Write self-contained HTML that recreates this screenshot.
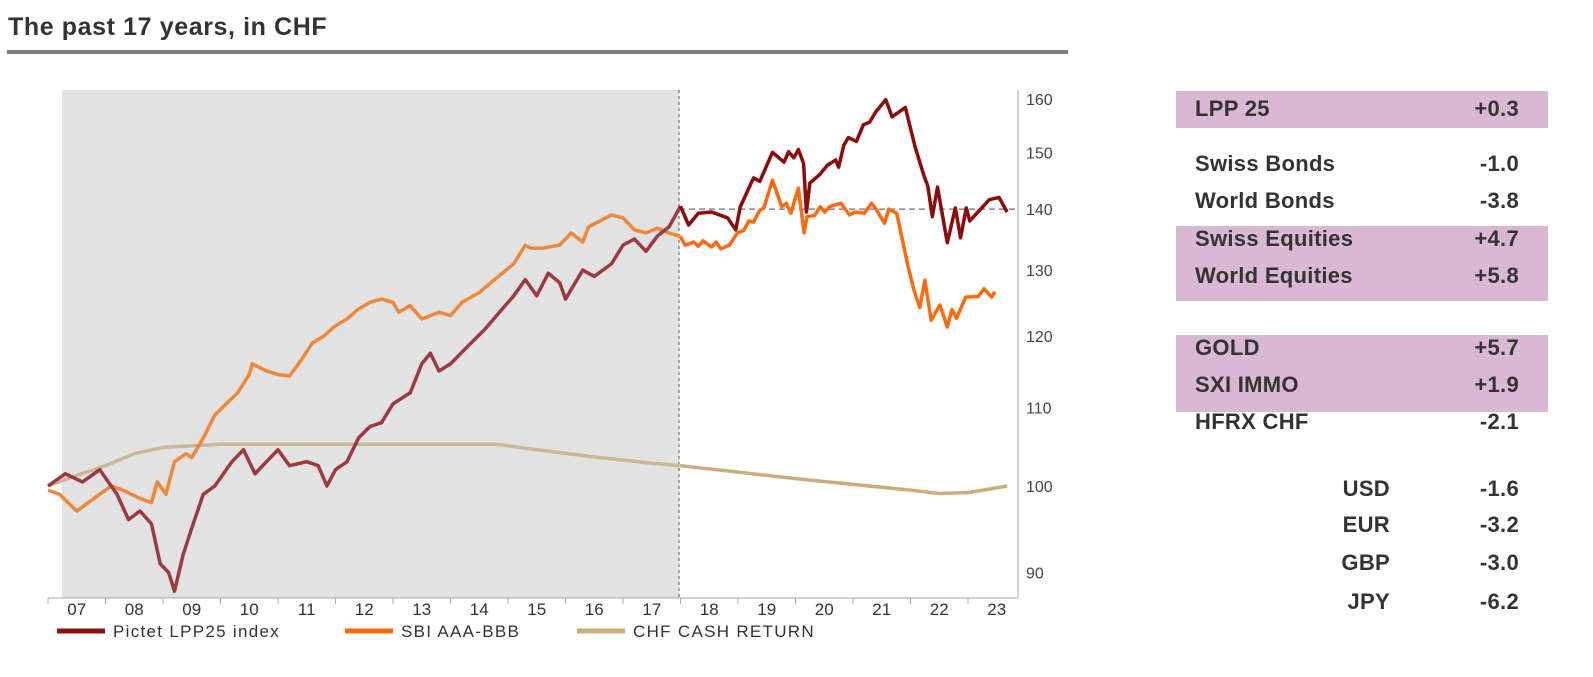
<!DOCTYPE html>
<html><head><meta charset="utf-8"><style>
body{margin:0;width:1593px;height:677px;background:#fff;font-family:"Liberation Sans",sans-serif;overflow:hidden;position:relative}
.t{position:absolute;color:#333;font-size:22px;font-weight:bold;white-space:nowrap;letter-spacing:0.3px}
.band{position:absolute;left:1176px;width:372px;background:#d8b8d3}
.r{text-align:right}
</style></head><body>
<div style="position:absolute;left:8px;top:13px;font-size:25px;font-weight:bold;color:#333;letter-spacing:0.6px">The past 17 years, in CHF</div>
<div style="position:absolute;left:7px;top:50px;width:1061px;height:4px;background:#808080"></div>

<svg id="chart" width="1100" height="677" style="position:absolute;left:0;top:0">
<rect x="62" y="90" width="617" height="508" fill="#e2e2e2"/>
<g id="g"></g>
</svg>

<div class="band" style="top:91px;height:37px"></div>
<div class="band" style="top:226px;height:75px"></div>
<div class="band" style="top:335px;height:77px"></div>
<div id="tbl"></div>

<script>
const NS="http://www.w3.org/2000/svg";
const lppT=[2007,2007.3,2007.6,2007.9,2008.2,2008.4,2008.6,2008.8,2008.95,2009.1,2009.2,2009.35,2009.5,2009.7,2009.9,2010.2,2010.4,2010.6,2010.8,2011.0,2011.2,2011.5,2011.7,2011.85,2012.0,2012.2,2012.4,2012.6,2012.8,2013.0,2013.3,2013.5,2013.65,2013.8,2014.0,2014.3,2014.6,2014.9,2015.1,2015.3,2015.5,2015.7,2015.9,2016.0,2016.3,2016.5,2016.8,2017.0,2017.2,2017.4,2017.6,2017.8,2018.0,2018.14,2018.31,2018.54,2018.82,2018.96,2019.04,2019.27,2019.38,2019.6,2019.8,2019.88,2019.97,2020.05,2020.14,2020.19,2020.25,2020.42,2020.56,2020.7,2020.75,2020.84,2020.92,2021.06,2021.18,2021.29,2021.4,2021.57,2021.68,2021.91,2022.08,2022.24,2022.3,2022.38,2022.47,2022.64,2022.78,2022.87,2022.97,2023.03,2023.2,2023.37,2023.54,2023.68];
const lppV=[100,101.5,100.5,102,99,96,97,95.5,91,90,88,92,95,99,100,103,104.5,101.5,103,104.5,102.5,103,102.5,100,102,103,106,107.5,108,110.5,112,116,117.5,115,116,118.5,121,124,126,128.5,126,129.5,128,125.5,130,129,131,134,135,133,135.5,137,140.5,137.3,139.3,139.5,138.5,136.5,140.4,145.4,144.8,150,148.2,150.1,149,150.5,148,139.5,144.5,146,147.7,148.6,147.3,151.3,152.7,152,155.1,155.6,157.6,159.9,156.6,158.4,151,145.6,144,138.7,143.8,134.4,140.2,135.2,140.2,138,139.8,141.6,142,139.5];
const sbiT=[2007,2007.2,2007.5,2007.8,2008.1,2008.3,2008.6,2008.8,2008.9,2009.05,2009.2,2009.4,2009.5,2009.7,2009.9,2010.1,2010.3,2010.5,2010.55,2010.8,2011.0,2011.2,2011.4,2011.6,2011.8,2012.0,2012.2,2012.4,2012.6,2012.8,2013.0,2013.1,2013.3,2013.5,2013.8,2014.0,2014.2,2014.5,2014.7,2014.9,2015.1,2015.3,2015.4,2015.6,2015.9,2016.1,2016.3,2016.4,2016.6,2016.8,2017.0,2017.2,2017.4,2017.6,2017.8,2018.0,2018.08,2018.23,2018.31,2018.39,2018.54,2018.62,2018.7,2018.85,2018.99,2019.1,2019.19,2019.27,2019.38,2019.45,2019.6,2019.76,2019.84,2019.92,2020.05,2020.15,2020.2,2020.33,2020.43,2020.51,2020.59,2020.79,2020.94,2021.04,2021.2,2021.32,2021.4,2021.55,2021.62,2021.76,2021.96,2022.06,2022.16,2022.25,2022.36,2022.51,2022.64,2022.72,2022.8,2022.96,2023.18,2023.28,2023.41,2023.47,2023.68];
const sbiV=[99.5,99,97,98.5,100,99.5,98.5,98,100.5,99,103,104,103.5,106,109,110.5,112,114.5,116,115,114.5,114.3,116.5,119,120,121.5,122.5,124,125,125.5,125,123.5,124.5,122.5,123.5,123,125,126.5,128,129.5,131,134,133.5,133.5,134,136,134.5,137,138,139,138.5,136.5,136,136.8,136,135.4,134,134.5,133.8,134.7,133.7,134.5,133.4,134,136,136.4,138,137.8,139.8,140.2,145,140.4,141,139.3,143.6,136,138.7,138.9,140.4,139.5,140.4,141,139,139.5,139.3,141,140,137.6,140,139.3,130.5,126.9,124.2,128.4,122.3,124.6,121.3,123.9,122.6,125.8,125.9,127.1,125.8,126.6];
const cashT=[2007,2007.5,2008,2008.5,2009,2009.5,2010,2012,2014.8,2015.5,2016.5,2017.5,2018,2019,2020,2021,2022,2022.5,2023,2023.68];
const cashV=[100,101.3,102.5,104,104.8,105,105.2,105.2,105.2,104.5,103.6,102.8,102.5,101.7,100.9,100.2,99.5,99.1,99.2,100];
const yTicks=[160,150,140,130,120,110,100,90];
const xLabels=["07","08","09","10","11","12","13","14","15","16","17","18","19","20","21","22","23"];
const X=t=>48+(t-2007)*57.5;
const Y=v=>486-823*Math.log(v/100);
const g=document.getElementById('g');
function mk(tag,a){const e=document.createElementNS(NS,tag);for(const k in a)e.setAttribute(k,a[k]);g.appendChild(e);return e;}
let e;
e=mk('line',{x1:679,y1:90,x2:679,y2:598,stroke:'#888','stroke-width':1.5,'stroke-dasharray':'3,3'});


e=mk('line',{x1:679,y1:Y(140),x2:1018,y2:Y(140),stroke:'#888','stroke-width':1.5,'stroke-dasharray':'6,4'});


e=mk('line',{x1:1018,y1:90,x2:1018,y2:598,stroke:'#aaa','stroke-width':1});


e=mk('line',{x1:48,y1:598,x2:1018,y2:598,stroke:'#aaa','stroke-width':1});


yTicks.forEach(v=>{const t=mk('text',{x:1026,y:Y(v)+6,'font-size':16,fill:'#444'});t.textContent=v;

});
xLabels.forEach((l,i)=>{const tk=mk('line',{x1:X(2007+i),y1:598,x2:X(2007+i),y2:604,stroke:'#aaa'});


const t=mk('text',{x:X(2007.5+i),y:615,'font-size':17,fill:'#333','text-anchor':'middle'});t.textContent=l;

});
function line(T,V,split,c1,c2,w,name){
 const pts=T.map((t,i)=>[X(t),Y(V[i])]);
 const a=pts.filter((p,i)=>T[i]<=split),b=pts.filter((p,i)=>T[i]>=split);
 [[a,c1],[b,c2]].forEach(([p,c])=>{if(p.length<2)return;const l=mk('polyline',{points:p.map(q=>q.join(',')).join(' '),fill:'none',stroke:c,'stroke-width':w,'stroke-linejoin':'round'});
 
 });
}
line(cashT,cashV,2018,'#c9b89a','#c8ad7f',3.5,'series-chf-cash-return');
line(sbiT,sbiV,2018,'#f0883a','#ff6a10',3.5,'series-sbi-aaa-bbb');
line(lppT,lppV,2018,'#9c3a40','#8b0a0a',3.5,'series-pictet-lpp25');
[[57,'#8b1010','Pictet LPP25 index','legend-lpp25'],[345,'#ff6a10','SBI AAA-BBB','legend-sbi'],[577,'#c8ad7f','CHF CASH RETURN','legend-cash']].forEach(([x,c,s,n])=>{
 const l=mk('line',{x1:x,y1:631,x2:x+48,y2:631,stroke:c,'stroke-width':5});
 
 
 const t=mk('text',{x:x+56,y:637,'font-size':17,fill:'#333','letter-spacing':'1.3'});t.textContent=s;
 
 
});
const rows=[["LPP 25","+0.3",108,1195,1519],["Swiss Bonds","-1.0",163,1195,1519],["World Bonds","-3.8",200,1195,1519],["Swiss Equities","+4.7",238,1195,1519],["World Equities","+5.8",275,1195,1519],["GOLD","+5.7",347,1195,1519],["SXI IMMO","+1.9",384,1195,1519],["HFRX CHF","-2.1",421,1195,1519],["USD","-1.6",488,null,1519],["EUR","-3.2",524,null,1519],["GBP","-3.0",562,null,1519],["JPY","-6.2",601,null,1519]];
const tbl=document.getElementById('tbl');
rows.forEach(r=>{
 const a=document.createElement('div');a.className='t';a.textContent=r[0];
 
 
 if(r[3]!==null){a.style.left=r[3]+'px';}else{a.style.right=(1593-1390)+'px';}
 a.style.top=(r[2]-12)+'px';tbl.appendChild(a);
 const b=document.createElement('div');b.className='t';b.textContent=r[1];
 
 
 b.style.right=(1593-r[4])+'px';b.style.top=(r[2]-12)+'px';tbl.appendChild(b);
});
</script>
</body></html>
